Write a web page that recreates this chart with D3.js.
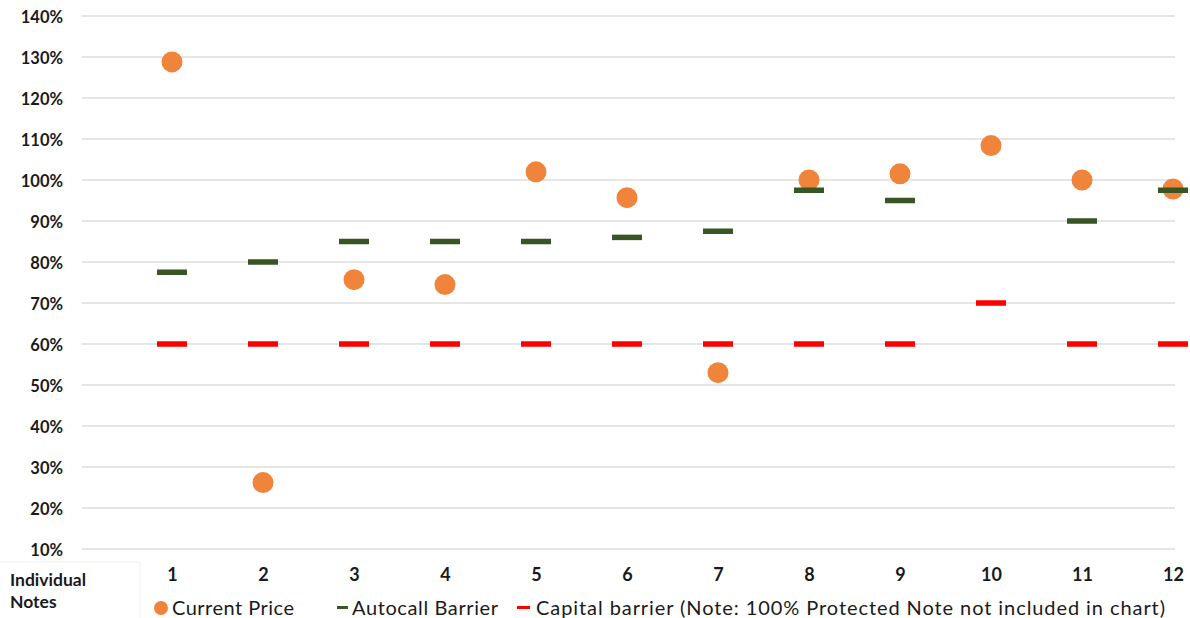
<!DOCTYPE html>
<html><head><meta charset="utf-8">
<script src="https://cdn.jsdelivr.net/npm/d3@7/dist/d3.min.js"></script>
<style>
html,body{margin:0;padding:0;background:#fff;}
svg{display:block;font-family:Lato,"Open Sans",sans-serif;}
</style></head>
<body><svg id="chart" width="1190" height="618"></svg>
<script>
const notes = ["1","2","3","4","5","6","7","8","9","10","11","12"];
const currentPrice = [128.8, 26.2, 75.7, 74.5, 102.0, 95.7, 53.0, 100.0, 101.5, 108.4, 100.0, 97.8];
const autocallBarrier = [77.5, 80, 85, 85, 85, 86, 87.5, 97.5, 95, null, 90, 97.5];
const capitalBarrier = [60, 60, 60, 60, 60, 60, 60, 60, 60, 70, 60, 60];
const yTicks = [10,20,30,40,50,60,70,80,90,100,110,120,130,140];
const legendLabels = ["Current Price","Autocall Barrier","Capital barrier (Note: 100% Protected Note not included in chart)"];
const colors = {price:"#F0843A", autocall:"#375623", capital:"#FF0000", grid:"#DCDCDC"};

const svg = d3.select("#chart");
const y = d3.scaleLinear().domain([10,140]).range([549,16]);
const x = d3.scalePoint().domain(notes).range([172,1173]);

// gridlines
svg.append("g").selectAll("line").data(yTicks).join("line")
  .attr("x1",82).attr("x2",1175)
  .attr("y1",d=>y(d)).attr("y2",d=>y(d))
  .attr("stroke",colors.grid).attr("stroke-width",1.5);

// y axis labels
const yAxis = d3.axisLeft(y).tickValues(yTicks).tickFormat(d=>d+"%").tickSize(0).tickPadding(0);
const yg = svg.append("g").attr("transform","translate(63,1)").call(yAxis);
yg.select(".domain").remove();
yg.selectAll("text").attr("font-family","Lato,sans-serif").attr("font-weight","bold")
  .attr("font-size",16.5).attr("fill","#1a1a1a");

// x axis labels
const xAxis = d3.axisBottom(x).tickSize(0).tickPadding(0);
const xg = svg.append("g").attr("transform","translate(0,568)").call(xAxis);
xg.select(".domain").remove();
xg.selectAll("text").attr("font-family","Lato,sans-serif").attr("font-weight","bold")
  .attr("font-size",18).attr("fill","#1a1a1a");

// table-like frame lines
svg.append("line").attr("x1",0).attr("x2",140).attr("y1",562).attr("y2",562).attr("stroke","#F2F2F2");
svg.append("line").attr("x1",140).attr("x2",140).attr("y1",562).attr("y2",618).attr("stroke","#F2F2F2");
svg.append("text").attr("x",10).attr("y",586).text("Individual")
  .attr("font-weight","bold").attr("font-size",17.5).attr("fill","#1a1a1a");
svg.append("text").attr("x",10).attr("y",608).text("Notes")
  .attr("font-weight","bold").attr("font-size",17.5).attr("fill","#1a1a1a");

const dw = 30, dh = 5.5;
// capital barrier dashes
svg.append("g").selectAll("rect").data(capitalBarrier.map((v,i)=>({n:notes[i],v})).filter(d=>d.v!=null)).join("rect")
  .attr("x",d=>x(d.n)-dw/2).attr("y",d=>y(d.v)-dh/2).attr("width",dw).attr("height",dh)
  .attr("fill",colors.capital);
// current price circles
svg.append("g").selectAll("circle").data(currentPrice.map((v,i)=>({n:notes[i],v}))).join("circle")
  .attr("cx",d=>x(d.n)).attr("cy",d=>y(d.v)).attr("r",10.5)
  .attr("fill",colors.price);
// autocall dashes
svg.append("g").selectAll("rect").data(autocallBarrier.map((v,i)=>({n:notes[i],v})).filter(d=>d.v!=null)).join("rect")
  .attr("x",d=>x(d.n)-dw/2).attr("y",d=>y(d.v)-dh/2).attr("width",dw).attr("height",dh)
  .attr("fill",colors.autocall);

// legend
const lg = svg.append("g").attr("font-size",20).attr("fill","#1a1a1a");
lg.append("circle").attr("cx",161).attr("cy",608).attr("r",7).attr("fill",colors.price);
lg.append("text").attr("x",172).attr("y",615).attr("textLength",122).attr("lengthAdjust","spacing").text(legendLabels[0]);
lg.append("rect").attr("x",337).attr("y",606).attr("width",11).attr("height",3).attr("fill",colors.autocall);
lg.append("text").attr("x",352).attr("y",615).attr("textLength",146).attr("lengthAdjust","spacing").text(legendLabels[1]);
lg.append("rect").attr("x",517).attr("y",606).attr("width",13).attr("height",3).attr("fill",colors.capital);
lg.append("text").attr("x",536).attr("y",615).attr("textLength",629).attr("lengthAdjust","spacing").text(legendLabels[2]);
</script></body></html>
